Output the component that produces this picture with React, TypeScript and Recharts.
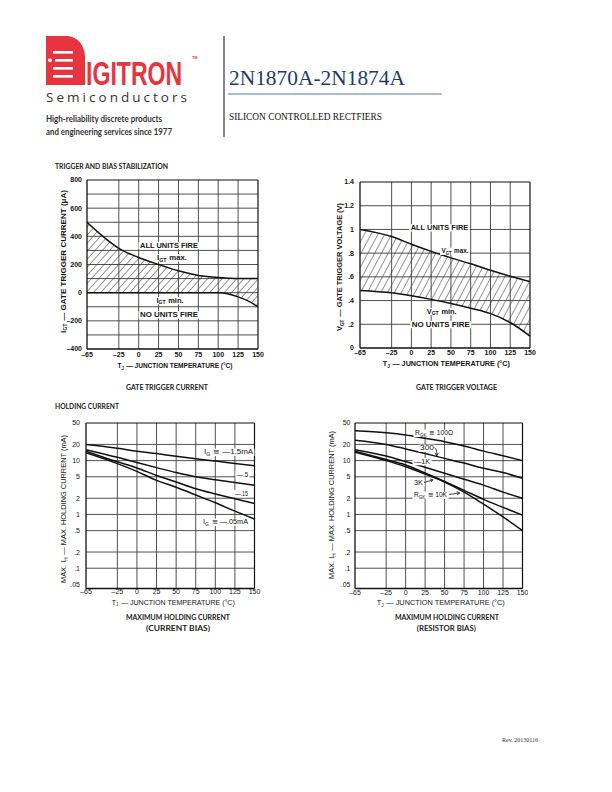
import React from 'react';
import { ComposedChart, Line, Area, XAxis, YAxis, ReferenceLine } from 'recharts';

const SANS = "'Liberation Sans', Arial, sans-serif";
const CAL = "Lato, 'Open Sans', sans-serif";

// shared temperature axis
const tempTicks = [-65, -25, 0, 25, 50, 75, 100, 125, 150];
const gridTemps = [-25, 0, 25, 50, 75, 100, 125];

// Chart 1: gate trigger current (uA)
const igtTemps = [-65, -45, -25, 0, 25, 50, 75, 100, 112, 125, 138, 150];
const igtMax = [500, 400, 315, 250, 200, 155, 122, 107, 103, 100, 100, 100];
const igtMin = [0, 0, 0, 0, 0, 0, 0, 0, -8, -30, -60, -100];
const igtTicks = [-400, -200, 0, 200, 400, 600, 800];
const igtGrid = [-300, -200, -100, 0, 100, 200, 300, 400, 500, 600, 700];

// Chart 2: gate trigger voltage (V)
const vgtTemps = [-65, -25, 0, 25, 50, 75, 100, 125, 150];
const vgtMax = [1.0, 0.94, 0.875, 0.815, 0.76, 0.71, 0.655, 0.605, 0.56];
const vgtMin = [0.485, 0.465, 0.44, 0.41, 0.375, 0.335, 0.29, 0.215, 0.1];
const vgtTicks = [0, 0.2, 0.4, 0.6, 0.8, 1, 1.2, 1.4];
const vgtGrid = [0.2, 0.4, 0.6, 0.8, 1, 1.2];

// Chart 3: holding current, current bias (mA)
const ihTemps = [-65, -25, 0, 25, 50, 75, 100, 125, 150];
const ihG150 = [20, 17, 15, 13.5, 12, 10.8, 9.8, 8.8, 8];
const ihG050 = [16, 11.5, 9.2, 7.4, 6, 5, 4.4, 3.9, 3.5];
const ihG015 = [15, 9.5, 7.3, 5.3, 4, 3, 2.4, 1.95, 1.6];
const ihG005 = [14, 8.8, 6.3, 4.3, 3.2, 2.3, 1.65, 1.15, 0.82];

// Chart 4: holding current, resistor bias (mA)
const irTemps = [-65, -25, 0, 25, 50, 75, 100, 125, 150];
const irR100 = [36, 33, 30, 26, 22.5, 18.7, 15, 12.3, 10];
const irR300 = [24, 20, 16.5, 13.5, 11, 9, 7.2, 6, 4.7];
const irR1K = [16, 12.2, 9.6, 7.5, 5.8, 4.5, 3.5, 2.6, 2.0];
const irR3K = [15, 10.5, 8.3, 5.9, 4.1, 2.8, 1.9, 1.35, 0.97];
const irR10K = [14.3, 10, 7.7, 5.6, 4, 2.6, 1.55, 0.9, 0.5];

const logTicks = [0.05, 0.1, 0.2, 0.5, 1, 2, 5, 10, 20, 50];
const logGrid = [0.1, 0.2, 0.5, 1, 2, 5, 10, 20];

const fmtT = (v: number) => (v < 0 ? '\u2013' + Math.abs(v) : String(v));
const fmtI = (v: number) => (v < 0 ? '\u2013' + Math.abs(v) : String(v));
const fmtV = (v: number) => (v === 0 ? '0' : v >= 1 ? String(v) : String(v).replace(/^0/, ''));
const fmtL = (v: number) => (v < 1 ? String(v).replace(/^0/, '') : String(v));

const d1 = igtTemps.map((t, i) => ({ t, hi: igtMax[i], lo: igtMin[i], band: [igtMin[i], igtMax[i]] }));
const d2 = vgtTemps.map((t, i) => ({ t, hi: vgtMax[i], lo: vgtMin[i], band: [vgtMin[i], vgtMax[i]] }));
const d3 = ihTemps.map((t, i) => ({ t, a: ihG150[i], b: ihG050[i], c: ihG015[i], d: ihG005[i] }));
const d4 = irTemps.map((t, i) => ({ t, a: irR100[i], b: irR300[i], c: irR1K[i], d: irR3K[i], e: irR10K[i] }));

type Box = { l: number; r: number; t: number; b: number };
const YW = 40;
const XH = 22;
const MT = 6;
const MR = 6;

interface FrameProps {
  box: Box;
  data: any[];
  yDomain: [number, number];
  yTicks: number[];
  yFmt: (v: number) => string;
  yGrid: number[];
  log?: boolean;
  bold?: boolean;
  xMargin: number;
  yMargin: number;
  children: React.ReactNode;
}

function Frame(p: FrameProps) {
  const w = p.box.r - p.box.l + YW + MR;
  const h = p.box.b - p.box.t + MT + XH;
  const tick = { fontSize: 7, fill: '#151515', fontFamily: SANS, fontWeight: p.bold ? 700 : 400 };
  const g = '#3c3c3c';
  return (
    <div style={{ position: 'absolute', left: p.box.l - YW, top: p.box.t - MT, width: w, height: h }}>
      <ComposedChart width={w} height={h} data={p.data} margin={{ top: MT, right: MR, bottom: 0, left: 0 }}>
        <XAxis
          type="number"
          dataKey="t"
          domain={[-65, 150]}
          ticks={tempTicks}
          tickFormatter={fmtT}
          interval={0}
          tickSize={0}
          tickMargin={p.xMargin}
          height={XH}
          axisLine={{ stroke: '#111', strokeWidth: 1.3 }}
          tickLine={false}
          tick={tick}
          allowDataOverflow
        />
        <YAxis
          type="number"
          scale={p.log ? 'log' : 'linear'}
          domain={p.yDomain}
          ticks={p.yTicks}
          tickFormatter={p.yFmt}
          interval={0}
          tickSize={0}
          tickMargin={p.yMargin}
          width={YW}
          axisLine={{ stroke: '#111', strokeWidth: 1.3 }}
          tickLine={false}
          tick={tick}
          allowDataOverflow
        />
        {gridTemps.map((v) => (
          <ReferenceLine key={'x' + v} x={v} stroke={g} strokeWidth={0.9} />
        ))}
        {p.yGrid.map((v) => (
          <ReferenceLine key={'y' + v} y={v} stroke={g} strokeWidth={0.9} />
        ))}
        <ReferenceLine x={150} stroke="#111" strokeWidth={1.2} />
        <ReferenceLine y={p.yDomain[1]} stroke="#111" strokeWidth={1.2} />
        {p.children}
      </ComposedChart>
    </div>
  );
}

const lineProps = { stroke: '#111', strokeWidth: 1.5, dot: false, isAnimationActive: false, type: 'monotone' as const };

interface TP {
  x: number;
  y: number;
  w?: number;
  size?: number;
  anchor?: 'start' | 'middle' | 'end';
  weight?: number;
  family?: string;
  fill?: string;
  rot?: boolean;
  spacingOnly?: boolean;
  children: React.ReactNode;
}
const T = (p: TP) => (
  <text
    x={p.x}
    y={p.y}
    fontSize={p.size ?? 7}
    textAnchor={p.anchor ?? 'start'}
    fontWeight={p.weight ?? 700}
    fontFamily={p.family ?? SANS}
    fill={p.fill ?? '#151515'}
    textLength={p.w}
    lengthAdjust={p.w ? (p.spacingOnly ? 'spacing' : 'spacingAndGlyphs') : undefined}
    transform={p.rot ? `rotate(-90 ${p.x} ${p.y})` : undefined}
  >
    {p.children}
  </text>
);

const Sub = ({ s, size = 4.8, d = 1.8 }: { s: string; size?: number; d?: number }) => (
  <>
    <tspan fontSize={size} dy={d}>{s}</tspan>
    <tspan dy={-d}>{'\u200a'}</tspan>
  </>
);

// annotation with white box behind
const Note = ({ x, y, w, size = 7, weight = 700, anchor = 'middle', children }: { x: number; y: number; w: number; size?: number; weight?: number; anchor?: 'start' | 'middle'; children: React.ReactNode }) => {
  const left = anchor === 'middle' ? x - w / 2 : x;
  return (
    <g>
      <rect x={left - 1.5} y={y - size * 0.8} width={w + 3} height={size * 1.05} fill="#fff" />
      <T x={x} y={y} w={w} size={size} weight={weight} anchor={anchor}>
        {children}
      </T>
    </g>
  );
};

export default function App() {
  return (
    <div style={{ position: 'absolute', left: 0, top: 0, width: 612, height: 792, background: '#fff', overflow: 'hidden' }}>
      <svg width={612} height={792} style={{ position: 'absolute', left: 0, top: 0 }}>
        <defs>
          <pattern id="hatch1" patternUnits="userSpaceOnUse" width="5.4" height="10" patternTransform="rotate(42)">
            <line x1="0" y1="-1" x2="0" y2="11" stroke="#111" strokeWidth="0.9" />
          </pattern>
          <pattern id="hatch2" patternUnits="userSpaceOnUse" width="6" height="10" patternTransform="rotate(28)">
            <line x1="0" y1="-1" x2="0" y2="11" stroke="#111" strokeWidth="0.9" />
          </pattern>
        </defs>

        {/* logo */}
        <path d="M46,36 H66 C78,36 85,46 85,58 V85 H46 Z" fill="#e8343f" />
        <rect x="53" y="51" width="20" height="2.6" fill="#fff" />
        <rect x="55" y="59" width="18" height="2.6" fill="#fff" />
        <circle cx="50" cy="60.3" r="1.9" fill="#fff" />
        <rect x="53" y="67" width="20" height="2.6" fill="#fff" />
        <rect x="53" y="75" width="20" height="2.6" fill="#fff" />
        <g transform="translate(86 85) scale(0.7 1.02)">
          <text x={0} y={0} fontSize={33} fontWeight={700} fontFamily={SANS} fill="#e8343f">IGITRON</text>
        </g>
        <T x={192} y={59} w={5.5} size={3.4} weight={700} fill="#e8343f">TM</T>
        <T x={46} y={102} w={141} size={13.5} weight={400} family={"'Open Sans', sans-serif"} fill="#333" spacingOnly>
          Semiconductors
        </T>
        <T x={46} y={122} w={116} size={8.6} weight={700} family={CAL} fill="#333">High-reliability discrete products</T>
        <T x={46} y={134.5} w={126} size={8.6} weight={700} family={CAL} fill="#333">and engineering services since 1977</T>
        <line x1="224" y1="36" x2="224" y2="137" stroke="#111" strokeWidth="1" />
        <T x={229} y={84.5} w={176} size={22} weight={400} family={"'Liberation Serif', serif"} fill="#1f3a68">2N1870A-2N1874A</T>
        <line x1="228" y1="94" x2="442" y2="94" stroke="#4a78b8" strokeWidth="1" />
        <T x={229} y={120} w={153} size={10} weight={400} family={"'Liberation Serif', serif"} fill="#111">SILICON CONTROLLED RECTFIERS</T>

        {/* section labels and captions */}
        <T x={55} y={168.5} w={113} size={7} family={CAL} fill="#222">TRIGGER AND BIAS STABILIZATION</T>
        <T x={167} y={390} w={82} size={7} family={CAL} anchor="middle" fill="#222">GATE TRIGGER CURRENT</T>
        <T x={456.5} y={390} w={81} size={7} family={CAL} anchor="middle" fill="#222">GATE TRIGGER VOLTAGE</T>
        <T x={55} y={408.5} w={64} size={7} family={CAL} fill="#222">HOLDING CURRENT</T>
        <T x={178} y={620} w={104} size={7} family={CAL} anchor="middle" fill="#222">MAXIMUM HOLDING CURRENT</T>
        <T x={178} y={631} w={64} size={7} family={CAL} anchor="middle" fill="#222">(CURRENT BIAS)</T>
        <T x={447} y={620} w={104} size={7} family={CAL} anchor="middle" fill="#222">MAXIMUM HOLDING CURRENT</T>
        <T x={446.3} y={631} w={59} size={7} family={CAL} anchor="middle" fill="#222">(RESISTOR BIAS)</T>

        {/* axis titles */}
        <T x={175} y={368} w={115} size={7.5} anchor="middle">
          T<Sub s="J" /> — JUNCTION TEMPERATURE (°C)
        </T>
        <T x={65.5} y={261.5} w={143} size={7.5} anchor="middle" rot>
          I<Sub s="GT" /> — GATE TRIGGER CURRENT (μA)
        </T>
        <T x={446.3} y={366} w={127} size={7.5} anchor="middle">
          T<Sub s="J" /> — JUNCTION TEMPERATURE (°C)
        </T>
        <T x={341.8} y={267} w={128} size={7.5} anchor="middle" rot>
          V<Sub s="GT" /> — GATE TRIGGER VOLTAGE (V)
        </T>
        <T x={173.3} y={604.5} w={123} size={7.5} weight={400} anchor="middle">
          T<Sub s="J" /> — JUNCTION TEMPERATURE (°C)
        </T>
        <T x={66} y={509} w={148} size={7.5} weight={400} anchor="middle" rot>
          MAX. I<Sub s="H" /> — MAX. HOLDING CURRENT (mA)
        </T>
        <T x={440.8} y={605} w={128} size={7.5} weight={400} anchor="middle">
          T<Sub s="J" /> — JUNCTION TEMPERATURE (°C)
        </T>
        <T x={334} y={505} w={148} size={7.5} weight={400} anchor="middle" rot>
          MAX. I<Sub s="H" /> — MAX. HOLDING CURRENT (mA)
        </T>

        <T x={502} y={742} w={36} size={5.5} weight={400} family={"'Liberation Serif', serif"} fill="#333">Rev. 20130116</T>
      </svg>

      {/* Chart 1 */}
      <Frame box={{ l: 87, r: 258, t: 180, b: 349 }} data={d1} yDomain={[-400, 800]} yTicks={igtTicks} yFmt={fmtI} yGrid={igtGrid} bold xMargin={3.5} yMargin={5}>
        <Area dataKey="band" type="monotone" fill="url(#hatch1)" fillOpacity={1} stroke="none" isAnimationActive={false} />
        <Line dataKey="hi" {...lineProps} />
        <Line dataKey="lo" {...lineProps} />
      </Frame>

      {/* Chart 2 */}
      <Frame box={{ l: 359.5, r: 529.5, t: 181.5, b: 347.5 }} data={d2} yDomain={[0, 1.4]} yTicks={vgtTicks} yFmt={fmtV} yGrid={vgtGrid} bold xMargin={2.5} yMargin={6}>
        <Area dataKey="band" type="monotone" fill="url(#hatch2)" fillOpacity={1} stroke="none" isAnimationActive={false} />
        <Line dataKey="hi" {...lineProps} />
        <Line dataKey="lo" {...lineProps} />
      </Frame>

      {/* Chart 3 */}
      <Frame box={{ l: 86, r: 254.5, t: 422.5, b: 588 }} data={d3} yDomain={[0.042, 50]} yTicks={logTicks} yFmt={fmtL} yGrid={logGrid} log xMargin={1} yMargin={6}>
        <Line dataKey="a" {...lineProps} />
        <Line dataKey="b" {...lineProps} />
        <Line dataKey="c" {...lineProps} />
        <Line dataKey="d" {...lineProps} />
      </Frame>

      {/* Chart 4 */}
      <Frame box={{ l: 354.5, r: 522, t: 423, b: 588.5 }} data={d4} yDomain={[0.042, 50]} yTicks={logTicks} yFmt={fmtL} yGrid={logGrid} log xMargin={1.5} yMargin={4.5}>
        <Line dataKey="a" {...lineProps} />
        <Line dataKey="b" {...lineProps} />
        <Line dataKey="c" {...lineProps} />
        <Line dataKey="d" {...lineProps} />
        <Line dataKey="e" {...lineProps} />
      </Frame>

      {/* annotations */}
      <svg width={612} height={792} style={{ position: 'absolute', left: 0, top: 0, pointerEvents: 'none' }}>
        <Note x={169} y={247.5} w={58}>ALL UNITS FIRE</Note>
        <Note x={172} y={259.8} w={30}>I<Sub s="GT" /> max.</Note>
        <Note x={170} y={302.5} w={27}>I<Sub s="GT" /> min.</Note>
        <Note x={169} y={316.8} w={58}>NO UNITS FIRE</Note>

        <Note x={439.5} y={229.8} w={57.6}>ALL UNITS FIRE</Note>
        <Note x={455} y={253.2} w={27}>V<Sub s="GT" /> max.</Note>
        <Note x={441.7} y={313.5} w={30}>V<Sub s="GT" /> min.</Note>
        <Note x={440.8} y={326.5} w={58}>NO UNITS FIRE</Note>

        <Note x={204} y={454.2} w={49} weight={400} anchor="start">I<Sub s="G" /> ≅ —1.5mA</Note>
        <Note x={237} y={476.5} w={11} weight={400} anchor="start">—.5</Note>
        <Note x={235} y={495.5} w={13} weight={400} anchor="start">—.15</Note>
        <Note x={203} y={524.2} w={45} weight={400} anchor="start">I<Sub s="G" /> ≅ —.05mA</Note>

        <Note x={415} y={435.2} w={38} weight={400} anchor="start">R<Sub s="GK" /> ≅ 100Ω</Note>
        <Note x={420} y={450.2} w={14} weight={400} anchor="start">300</Note>
        <path d="M434.5,447.5 Q437,449 436.8,455" fill="none" stroke="#111" strokeWidth="0.8" />
        <path d="M435.2,453 L436.8,456 L438.2,453" fill="none" stroke="#111" strokeWidth="0.8" />
        <Note x={414} y={463.5} w={16} weight={400} anchor="start">—1K</Note>
        <Note x={414} y={485.2} w={9} weight={400} anchor="start">3K</Note>
        <line x1="424" y1="482.5" x2="432.5" y2="480" stroke="#111" strokeWidth="0.8" />
        <path d="M430,479 L433,479.8 L431,482" fill="none" stroke="#111" strokeWidth="0.8" />
        <Note x={414} y={497.2} w={33} weight={400} anchor="start">R<Sub s="GK" /> ≅ 10K</Note>
        <line x1="449" y1="494.5" x2="459.5" y2="493" stroke="#111" strokeWidth="0.8" />
        <path d="M456.5,491.5 L459.8,493 L457,495" fill="none" stroke="#111" strokeWidth="0.8" />
      </svg>
    </div>
  );
}
